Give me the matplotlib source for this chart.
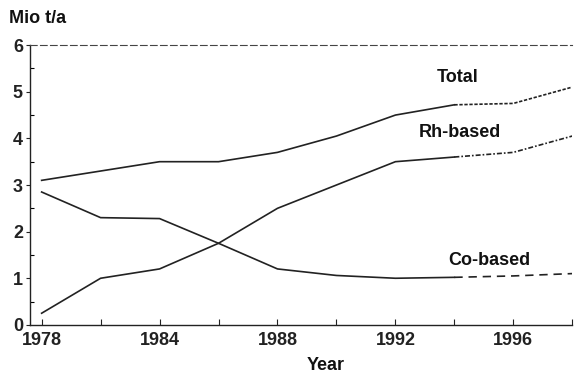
import matplotlib
matplotlib.use('Agg')
import matplotlib.pyplot as plt
import numpy as np

plt.rcParams['font.family'] = ['Liberation Sans', 'DejaVu Sans']

# world oxo capacity, Mio t/a
years = [1978, 1981, 1984, 1986, 1988, 1990, 1992, 1994, 1996, 1998]
total = [3.1, 3.3, 3.5, 3.5, 3.7, 4.05, 4.5, 4.72, 4.75, 5.1]
rh_based = [0.25, 1.0, 1.2, 1.75, 2.5, 3.0, 3.5, 3.6, 3.7, 4.05]
co_based = [2.85, 2.3, 2.28, 1.75, 1.2, 1.06, 1.0, 1.02, 1.05, 1.1]
last_actual = 1994  # values after this year are forecasts

x_ticks = [1978, 1984, 1988, 1992, 1996]
minor_ticks = [1981, 1986, 1990, 1994, 1998]
y_ticks = [0, 1, 2, 3, 4, 5, 6]

# axis is squeezed before 1984: 1978-1984 takes the room of 4 years
def fwd(x):
    x = np.asarray(x, dtype=float)
    return np.where(x < 1984, (x - 1978) / 3.0, 2 + (x - 1984) / 2.0)

def inv(u):
    u = np.asarray(u, dtype=float)
    return np.where(u < 2, 1978 + 3.0 * u, 1984 + 2.0 * (u - 2))

fig = plt.figure(figsize=(5.74, 3.73), dpi=100)
ax = fig.add_axes([0.052, 0.129, 0.945, 0.750])
ax.set_xscale('function', functions=(fwd, inv))

col = '#222222'
cut = years.index(last_actual) + 1
styles = [(total, (0, (2, 1))), (rh_based, (0, (3, 1.2, 1, 1.2))), (co_based, (0, (5, 3.5)))]
for vals, fc_style in styles:
    ax.plot(years[:cut], vals[:cut], color=col, lw=1.2, solid_joinstyle='round')
    ax.plot(years[cut - 1:], vals[cut - 1:], color=col, lw=1.2, ls=fc_style)

tf = dict(fontsize=13, fontweight='bold', color='#111111')
ax.text(1994.1, 5.31, 'Total', ha='center', va='center', **tf)
ax.text(1994.2, 4.13, 'Rh-based', ha='center', va='center', **tf)
ax.text(1995.2, 1.39, 'Co-based', ha='center', va='center', **tf)

ax.set_xlim(1977.4, 1998.0)
ax.set_ylim(0, 6)
ax.set_xticks(x_ticks)
ax.set_xticks(minor_ticks, minor=True)
ax.set_yticks(y_ticks)
ax.set_yticks(np.arange(0.5, 6, 1.0), minor=True)
ax.tick_params(axis='x', which='both', direction='in', length=4, width=0.8,
               labelsize=13, pad=5, colors=col)
ax.tick_params(axis='y', which='major', direction='out', length=3, width=0.8,
               labelsize=13, pad=2, colors=col)
ax.tick_params(axis='y', which='minor', direction='in', length=3, width=0.8)
for lab in ax.get_xticklabels() + ax.get_yticklabels():
    lab.set_fontweight('bold')

ax.spines['right'].set_visible(False)
ax.spines['top'].set_linestyle((0, (6, 3)))
ax.spines['top'].set_color('#444444')
ax.spines['left'].set_color(col)
ax.spines['bottom'].set_color(col)
ax.spines['left'].set_linewidth(1.0)
ax.spines['bottom'].set_linewidth(1.0)

fig.text(0.016, 0.950, 'Mio t/a', fontsize=13, fontweight='bold', color='#111111',
         ha='left', va='center')
ax.set_xlabel('Year', fontsize=13, fontweight='bold', color='#111111')
ax.xaxis.set_label_coords(0.546, -0.115)

fig.savefig('out.png', dpi=100)
